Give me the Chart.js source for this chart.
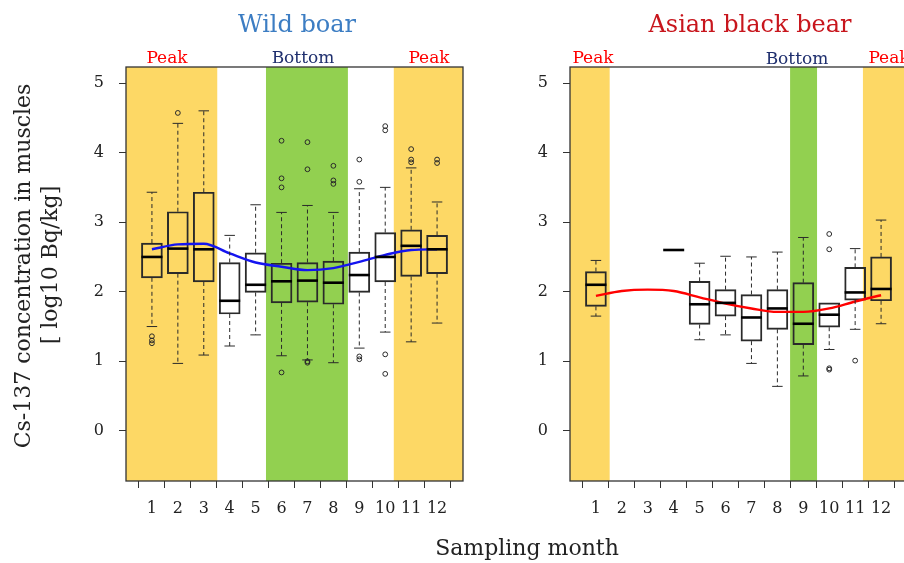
<!DOCTYPE html>
<html>
<head>
<meta charset="utf-8">
<script src="https://cdn.jsdelivr.net/npm/chart.js@4.4.1/dist/chart.umd.min.js"></script>
<style>
  html, body { margin: 0; padding: 0; width: 904px; height: 563px; overflow: hidden; background: #fff; }
  body { position: relative; font-family: "DejaVu Serif", serif; }
  canvas { position: absolute; top: 0; }
  #boar { left: 0; }
  #bear { left: 470px; }
  .lbl { position: absolute; transform: translate(-50%, -50%); white-space: nowrap; line-height: 1; }
  .rot { transform: translate(-50%, -50%) rotate(-90deg); }
</style>
</head>
<body>
<canvas id="boar" width="470" height="563"></canvas>
<canvas id="bear" width="450" height="563"></canvas>

<div class="lbl" style="left:297px;top:24px;font-size:24px;color:#3C7DC3">Wild boar</div>
<div class="lbl" style="left:750px;top:24px;font-size:24px;color:#C8161D">Asian black bear</div>
<div class="lbl" style="left:167px;top:57px;font-size:17px;color:#FF0000">Peak</div>
<div class="lbl" style="left:303px;top:57px;font-size:17px;color:#1F2F6E">Bottom</div>
<div class="lbl" style="left:429px;top:57px;font-size:17px;color:#FF0000">Peak</div>
<div class="lbl" style="left:593px;top:57px;font-size:17px;color:#FF0000">Peak</div>
<div class="lbl" style="left:797px;top:58px;font-size:17px;color:#1F2F6E">Bottom</div>
<div class="lbl" style="left:889px;top:57px;font-size:17px;color:#FF0000">Peak</div>
<div class="lbl rot" style="left:23px;top:266px;font-size:22px;color:#222">Cs-137 concentration in muscles</div>
<div class="lbl rot" style="left:50px;top:265px;font-size:22px;color:#222">[ log10 Bq/kg]</div>
<div class="lbl" style="left:527px;top:548px;font-size:22px;color:#222">Sampling month</div>

<script>
// months on the x axis and the y tick values
const months = [1, 2, 3, 4, 5, 6, 7, 8, 9, 10, 11, 12];
const yTicks = [0, 1, 2, 3, 4, 5];

// Wild boar: box statistics per month (log10 Bq/kg)
const boarLo  = [1.50, 0.97, 1.09, 1.22, 1.38, 1.08, 1.02, 0.98, 1.19, 1.42, 1.28, 1.55];
const boarQ1  = [2.20, 2.26, 2.14, 1.68, 1.99, 1.84, 1.85, 1.82, 1.99, 2.14, 2.22, 2.26];
const boarMed = [2.50, 2.62, 2.61, 1.87, 2.10, 2.15, 2.16, 2.13, 2.24, 2.50, 2.66, 2.61];
const boarQ3  = [2.70, 3.15, 3.43, 2.42, 2.56, 2.41, 2.42, 2.44, 2.57, 2.85, 2.89, 2.81];
const boarHi  = [3.43, 4.42, 4.60, 2.81, 3.25, 3.14, 3.24, 3.14, 3.48, 3.50, 3.78, 3.29];
const boarOutMonth = [1, 1, 1, 2, 6, 6, 6, 6, 7, 7, 7, 7, 8, 8, 8, 9, 9, 9, 9, 10, 10, 10, 10, 11, 11, 11, 12, 12];
const boarOutValue = [1.36, 1.30, 1.26, 4.57, 4.17, 3.63, 3.50, 0.84, 4.15, 3.76, 1.00, 0.98, 3.81, 3.60, 3.55,
                      3.90, 3.58, 1.07, 1.03, 4.38, 4.32, 1.10, 0.82, 4.05, 3.90, 3.86, 3.90, 3.85];
const boarTrend = [2.61, 2.68, 2.69, 2.55, 2.42, 2.36, 2.31, 2.34, 2.43, 2.53, 2.60, 2.61];

// Asian black bear (no samples in Feb/Mar, one in Apr)
const bearLo  = [1.65, null, null, 2.60, 1.31, 1.38, 0.97, 0.64, 0.79, 1.17, 1.46, 1.54];
const bearQ1  = [1.79, null, null, 2.60, 1.53, 1.65, 1.29, 1.46, 1.24, 1.49, 1.88, 1.87];
const bearMed = [2.10, null, null, 2.60, 1.82, 1.84, 1.63, 1.76, 1.54, 1.67, 1.99, 2.04];
const bearQ3  = [2.29, null, null, 2.60, 2.15, 2.03, 1.96, 2.03, 2.13, 1.84, 2.35, 2.50];
const bearHi  = [2.45, null, null, 2.60, 2.41, 2.51, 2.50, 2.57, 2.78, 1.84, 2.62, 3.03];
const bearOutMonth = [10, 10, 10, 10, 11];
const bearOutValue = [2.83, 2.61, 0.90, 0.88, 1.01];
const bearTrend = [1.94, 2.01, 2.03, 2.01, 1.92, 1.83, 1.76, 1.71, 1.71, 1.76, 1.86, 1.95];

// seasonal bands in month units
const boarPeak = [[0, 3.52], [10.33, 13]];
const boarBottom = [[5.40, 8.56]];
const bearPeak = [[0, 1.53], [11.30, 13]];
const bearBottom = [[8.49, 9.53]];

const PEAK_COLOR = "#FDD865";
const BOTTOM_COLOR = "#92D050";
const INK = "#2a2a2a";

Chart.defaults.font.family = '"DejaVu Serif", serif';
Chart.defaults.color = "#222";

// background bands, whiskers, medians and the frame
const boxPlugin = {
  id: "boxplot",
  beforeDraw(chart, args, o) {
    const { ctx, chartArea: a, scales: { x } } = chart;
    ctx.save();
    const fill = (list, color) => list.forEach(([from, to]) => {
      const x0 = Math.max(a.left, x.getPixelForValue(from));
      const x1 = Math.min(a.right, x.getPixelForValue(to));
      ctx.fillStyle = color;
      ctx.fillRect(x0, a.top, x1 - x0, a.bottom - a.top);
    });
    fill(o.peak, PEAK_COLOR);
    fill(o.bottom, BOTTOM_COLOR);
    ctx.restore();
  },
  afterDatasetsDraw(chart, args, o) {
    const { ctx, scales: { x, y } } = chart;
    ctx.save();
    months.forEach((m, i) => {
      if (o.med[i] == null) return;
      const px = x.getPixelForValue(m);
      const hw = o.half;
      // whiskers
      ctx.strokeStyle = INK;
      ctx.lineWidth = 1;
      [[o.q3[i], o.hi[i]], [o.q1[i], o.lo[i]]].forEach(([from, to]) => {
        if (from === to) return;
        ctx.setLineDash([4, 3]);
        ctx.beginPath();
        ctx.moveTo(px, y.getPixelForValue(from));
        ctx.lineTo(px, y.getPixelForValue(to));
        ctx.stroke();
        ctx.setLineDash([]);
        ctx.beginPath();
        ctx.moveTo(px - hw / 2, y.getPixelForValue(to));
        ctx.lineTo(px + hw / 2, y.getPixelForValue(to));
        ctx.stroke();
      });
      // median
      ctx.lineWidth = 2.6;
      ctx.strokeStyle = "#000";
      ctx.beginPath();
      ctx.moveTo(px - hw, y.getPixelForValue(o.med[i]));
      ctx.lineTo(px + hw, y.getPixelForValue(o.med[i]));
      ctx.stroke();
    });
    ctx.restore();
  },
  afterDraw(chart) {
    const { ctx, chartArea: a } = chart;
    ctx.save();
    ctx.strokeStyle = "#333";
    ctx.lineWidth = 1.3;
    ctx.strokeRect(a.left, a.top, a.right - a.left, a.bottom - a.top);
    ctx.restore();
  }
};

function makeChart(id, s, outMonth, outValue, trend, trendColor, peak, bottom, pad) {
  const boxes = months
    .map((m, i) => ({ x: m, y: [s.q1[i], s.q3[i]] }))
    .filter(d => d.y[0] != null);
  const outliers = outMonth.map((m, i) => ({ x: m, y: outValue[i] }));
  const curve = months.map((m, i) => ({ x: m, y: trend[i] }));

  return new Chart(document.getElementById(id), {
    type: "bar",
    data: {
      datasets: [
        { type: "line", data: curve, borderColor: trendColor, borderWidth: 2.4, pointRadius: 0,
          cubicInterpolationMode: "monotone", fill: false, order: 0 },
        { type: "scatter", data: outliers, pointStyle: "circle", pointRadius: 2.4,
          borderColor: INK, borderWidth: 1, backgroundColor: "rgba(0,0,0,0)", order: 1 },
        { type: "bar", data: boxes, backgroundColor: "rgba(0,0,0,0)", borderColor: INK,
          borderWidth: 1.3, borderSkipped: false, barThickness: 21, order: 2 }
      ]
    },
    options: {
      responsive: false,
      animation: false,
      events: [],
      layout: { padding: pad },
      plugins: {
        legend: { display: false },
        tooltip: { enabled: false },
        boxplot: { ...s, peak, bottom, half: 10.5 }
      },
      scales: {
        x: {
          type: "linear", min: 0, max: 13, offset: false,
          afterBuildTicks: sc => { sc.ticks = months.map(v => ({ value: v })); },
          afterFit: sc => { sc.height = 50; },
          ticks: { autoSkip: false, maxRotation: 0, padding: 11, font: { size: 16 }, color: "#222" },
          grid: { drawOnChartArea: false, drawTicks: true, tickLength: 7, color: "#333", lineWidth: 1 },
          border: { display: false }
        },
        y: {
          min: -0.72, max: 5.23,
          afterBuildTicks: sc => { sc.ticks = yTicks.map(v => ({ value: v })); },
          afterFit: sc => { sc.width = 60; },
          ticks: { padding: 15, font: { size: 16 }, color: "#222" },
          grid: { drawOnChartArea: false, drawTicks: true, tickLength: 7, color: "#333", lineWidth: 1 },
          border: { display: false }
        }
      }
    },
    plugins: [boxPlugin]
  });
}

makeChart("boar",
  { lo: boarLo, q1: boarQ1, med: boarMed, q3: boarQ3, hi: boarHi },
  boarOutMonth, boarOutValue, boarTrend, "#1414F0", boarPeak, boarBottom,
  { left: 66, right: 7, top: 67, bottom: 32 });

makeChart("bear",
  { lo: bearLo, q1: bearQ1, med: bearMed, q3: bearQ3, hi: bearHi },
  bearOutMonth, bearOutValue, bearTrend, "#FF0000", bearPeak, bearBottom,
  { left: 40, right: 13, top: 67, bottom: 32 });
</script>
</body>
</html>
